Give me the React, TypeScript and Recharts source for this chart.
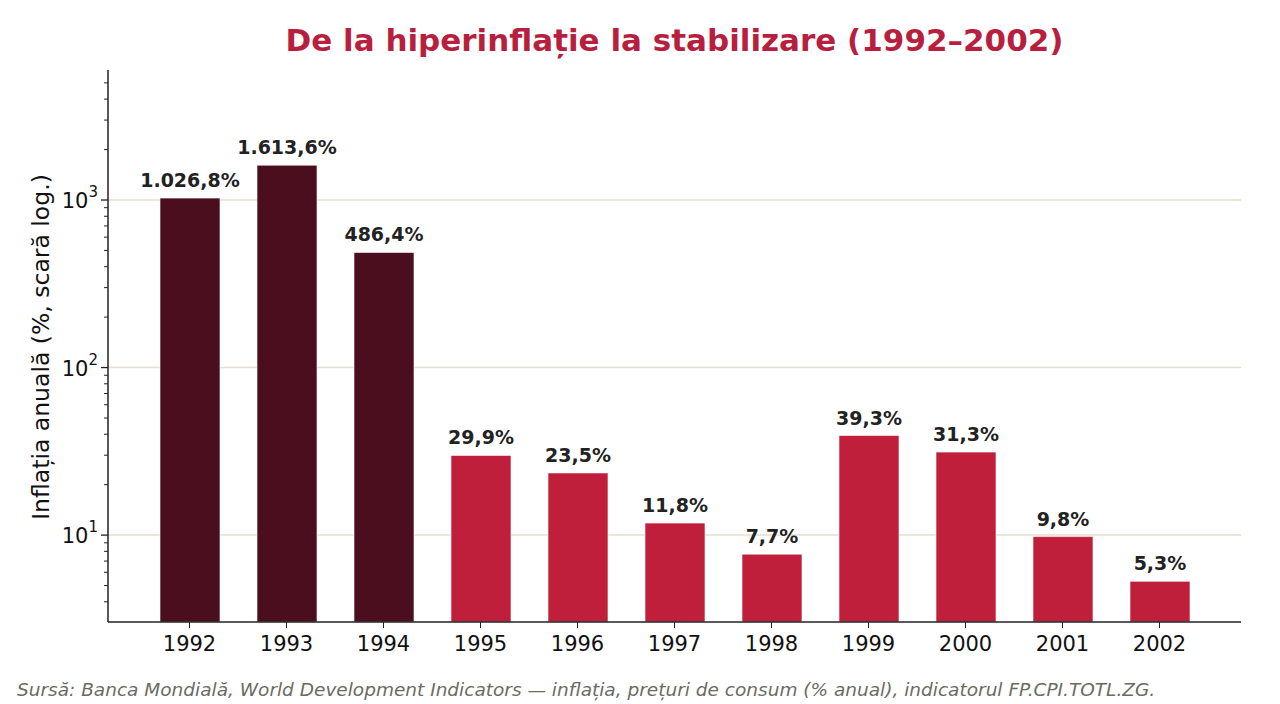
import React from "react";
import {
  BarChart,
  Bar,
  XAxis,
  YAxis,
  CartesianGrid,
  Cell,
  LabelList,
} from "recharts";

// Inflația anuală, România (% anual)
const years = ["1992", "1993", "1994", "1995", "1996", "1997", "1998", "1999", "2000", "2001", "2002"];
const inflation = [1026.8, 1613.6, 486.4, 29.9, 23.5, 11.8, 7.7, 39.3, 31.3, 9.8, 5.3];
const hyperYears = ["1992", "1993", "1994"];

const majorTicks = [10, 100, 1000];
const minorTicks = [4, 5, 6, 7, 8, 9, 20, 30, 40, 50, 60, 70, 80, 90, 200, 300, 400, 500, 600, 700, 800, 900, 2000, 3000, 4000, 5000];

const data = years.map((year, i) => ({ year, value: inflation[i] }));

const COLORS = {
  hyper: "#4a0e1e",
  normal: "#c01f3c",
  title: "#b81f3e",
  grid: "#e3ded0",
  axis: "#222222",
  label: "#222222",
  source: "#6b6b62",
};

const FONT = "'DejaVu Sans', sans-serif";

// 1026.8 -> "1.026,8%"
const formatPct = (v: number) => {
  const [int, dec] = v.toFixed(1).split(".");
  const grouped = int.replace(/\B(?=(\d{3})+(?!\d))/g, ".");
  return `${grouped},${dec}%`;
};

const LogTick = (props: any) => {
  const { x, y, payload } = props;
  const exp = Math.log10(payload.value);
  const major = Math.abs(exp - Math.round(exp)) < 1e-9;
  return (
    <g>
      <line
        x1={x - (major ? 7 : 4)}
        x2={x}
        y1={y}
        y2={y}
        stroke={COLORS.axis}
        strokeWidth={major ? 1.3 : 1}
      />
      {major && (
        <text x={x - 10} y={y + 8} textAnchor="end" fontSize={21} fill="#111" fontFamily={FONT}>
          10
          <tspan dy={-11} fontSize={15}>
            {Math.round(exp)}
          </tspan>
        </text>
      )}
    </g>
  );
};

export default function App() {
  return (
    <div style={{ position: "relative", width: 1280, height: 704, fontFamily: FONT, background: "#fff" }}>
      <style>{"body { margin: 0; }"}</style>
      <div
        style={{
          position: "absolute",
          top: 20,
          left: 108,
          width: 1133,
          textAlign: "center",
          fontSize: 31,
          fontWeight: "bold",
          color: COLORS.title,
          lineHeight: "40px",
        }}
      >
        De la hiperinflație la stabilizare (1992–2002)
      </div>
      <div
        style={{
          position: "absolute",
          left: 41 - 250,
          top: 347 - 15,
          width: 500,
          height: 30,
          lineHeight: "30px",
          textAlign: "center",
          fontSize: 23.5,
          color: "#111",
          transform: "rotate(-90deg)",
        }}
      >
        Inflația anuală (%, scară log.)
      </div>
      <BarChart
        width={1280}
        height={704}
        data={data}
        margin={{ top: 70, right: 39, bottom: 0, left: 48 }}
      >
        <CartesianGrid
          vertical={false}
          horizontalValues={majorTicks}
          stroke={COLORS.grid}
          strokeWidth={1.5}
        />
        <XAxis
          dataKey="year"
          padding={{ left: 33, right: 33 }}
          tick={{ fontSize: 21, fill: "#111", fontFamily: FONT }}
          tickSize={6}
          tickMargin={8}
          tickLine={{ stroke: COLORS.axis }}
          axisLine={{ stroke: COLORS.axis, strokeWidth: 1.5 }}
          height={82}
        />
        <YAxis
          scale="log"
          domain={[3.03, 5970]}
          allowDataOverflow
          ticks={[...minorTicks, ...majorTicks].sort((a, b) => a - b)}
          interval={0}
          width={60}
          tickSize={0}
          tickMargin={0}
          tickLine={false}
          tick={<LogTick />}
          axisLine={{ stroke: COLORS.axis, strokeWidth: 1.5 }}
        />
        <Bar dataKey="value" barSize={60} isAnimationActive={false} stroke="#ffffff" strokeWidth={0.6}>
          {data.map((d) => (
            <Cell key={d.year} fill={hyperYears.includes(d.year) ? COLORS.hyper : COLORS.normal} />
          ))}
          <LabelList
            dataKey="value"
            position="top"
            offset={11}
            formatter={(v: any) => formatPct(Number(v))}
            style={{ fontSize: 19, fontWeight: "bold", fill: COLORS.label, fontFamily: FONT }}
          />
        </Bar>
      </BarChart>
      <div
        style={{
          position: "absolute",
          left: 17,
          top: 678,
          fontSize: 18.5,
          fontStyle: "italic",
          color: COLORS.source,
          lineHeight: "24px",
          whiteSpace: "nowrap",
        }}
      >
        Sursă: Banca Mondială, World Development Indicators — inflația, prețuri de consum (% anual), indicatorul FP.CPI.TOTL.ZG.
      </div>
    </div>
  );
}
